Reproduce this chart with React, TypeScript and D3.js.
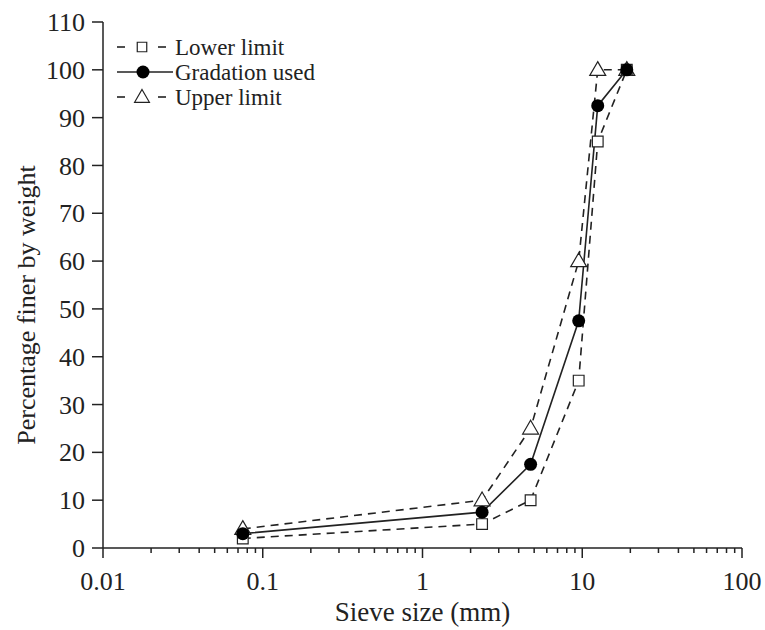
import { useEffect, useRef } from "react";
import * as d3 from "d3";

const sieveSizes = [0.075, 2.36, 4.75, 9.5, 12.5, 19];
const lowerLimit = [2, 5, 10, 35, 85, 100];
const gradationUsed = [3, 7.5, 17.5, 47.5, 92.5, 100];
const upperLimit = [4, 10, 25, 60, 100, 100];
const xTicks = [0.01, 0.1, 1, 10, 100];
const yTicks = [0, 10, 20, 30, 40, 50, 60, 70, 80, 90, 100, 110];

export default function App() {
  const ref = useRef<SVGSVGElement>(null);

  useEffect(() => {
    if (!ref.current) return;
    const width = 765;
    const height = 630;
    const margin = { top: 22, right: 23, bottom: 82, left: 103 };
    const font = '"Liberation Serif", "Times New Roman", serif';
    const ink = "#222";

    const svg = d3.select(ref.current);
    svg.selectAll("*").remove();

    const x = d3.scaleLog().domain([0.01, 100]).range([margin.left, width - margin.right]);
    const y = d3.scaleLinear().domain([0, 110]).range([height - margin.bottom, margin.top]);

    // minor ticks on log axis
    const minor: number[] = [];
    for (let e = -2; e < 2; e++) {
      for (let m = 2; m <= 9; m++) minor.push(m * Math.pow(10, e));
    }

    const xAxis = svg.append("g").attr("transform", `translate(0,${y(0)})`);
    xAxis.append("line")
      .attr("x1", x(0.01)).attr("x2", x(100))
      .attr("stroke", ink).attr("stroke-width", 1.5);
    xAxis.selectAll("line.minor").data(minor).enter().append("line")
      .attr("class", "minor")
      .attr("x1", d => x(d)).attr("x2", d => x(d))
      .attr("y1", 0).attr("y2", 5)
      .attr("stroke", ink).attr("stroke-width", 1.5);
    xAxis.selectAll("line.major").data(xTicks).enter().append("line")
      .attr("class", "major")
      .attr("x1", d => x(d)).attr("x2", d => x(d))
      .attr("y1", 0).attr("y2", 10)
      .attr("stroke", ink).attr("stroke-width", 1.5);
    xAxis.selectAll("text").data(xTicks).enter().append("text")
      .attr("x", d => x(d)).attr("y", 42)
      .attr("text-anchor", "middle")
      .style("font-family", font).style("font-size", "26px").attr("fill", ink)
      .text(d => String(d));

    const yAxis = svg.append("g").attr("transform", `translate(${x(0.01)},0)`);
    yAxis.append("line")
      .attr("y1", y(0)).attr("y2", y(110))
      .attr("stroke", ink).attr("stroke-width", 1.5);
    yAxis.selectAll("line.tick").data(yTicks).enter().append("line")
      .attr("class", "tick")
      .attr("x1", -11).attr("x2", 0)
      .attr("y1", d => y(d)).attr("y2", d => y(d))
      .attr("stroke", ink).attr("stroke-width", 1.5);
    yAxis.selectAll("text").data(yTicks).enter().append("text")
      .attr("x", -18).attr("y", d => y(d))
      .attr("dy", "0.35em")
      .attr("text-anchor", "end")
      .style("font-family", font).style("font-size", "26px").attr("fill", ink)
      .text(d => String(d));

    svg.append("text")
      .attr("x", (x(0.01) + x(100)) / 2).attr("y", 621)
      .attr("text-anchor", "middle")
      .style("font-family", font).style("font-size", "27px").attr("fill", ink)
      .text("Sieve size (mm)");
    svg.append("text")
      .attr("transform", `translate(35,305) rotate(-90)`)
      .attr("text-anchor", "middle")
      .style("font-family", font).style("font-size", "26px").attr("fill", ink)
      .text("Percentage finer by weight");

    const line = d3.line<number>()
      .x((_, i) => x(sieveSizes[i]))
      .y(d => y(d));

    const square = d3.symbol().type(d3.symbolSquare).size(115);
    const triangle = d3.symbol().type(d3.symbolTriangle).size(110);

    const series = [
      { values: upperLimit, dash: "8,6", marker: "tri" },
      { values: lowerLimit, dash: "8,6", marker: "sq" },
      { values: gradationUsed, dash: null, marker: "dot" },
    ];

    series.forEach(s => {
      svg.append("path")
        .attr("d", line(s.values)!)
        .attr("fill", "none")
        .attr("stroke", ink)
        .attr("stroke-width", 1.6)
        .attr("stroke-dasharray", s.dash ?? null);
    });

    series.forEach(s => {
      const g = svg.append("g");
      s.values.forEach((v, i) => {
        const cx = x(sieveSizes[i]);
        const cy = y(v);
        if (s.marker === "dot") {
          g.append("circle").attr("cx", cx).attr("cy", cy).attr("r", 6.5).attr("fill", "#000");
        } else {
          g.append("path")
            .attr("d", (s.marker === "sq" ? square : triangle)()!)
            .attr("transform", `translate(${cx},${cy + (s.marker === "tri" ? 1 : 0)})`)
            .attr("fill", "#fff").attr("stroke", ink).attr("stroke-width", 1.2);
        }
      });
    });

    // legend
    const legend = [
      { label: "Lower limit", dash: true, marker: "sq" },
      { label: "Gradation used", dash: false, marker: "dot" },
      { label: "Upper limit", dash: true, marker: "tri" },
    ];
    legend.forEach((l, i) => {
      const ly = 47 + i * 25;
      const g = svg.append("g");
      if (l.dash) {
        g.append("line").attr("x1", 117).attr("x2", 125).attr("y1", ly).attr("y2", ly)
          .attr("stroke", ink).attr("stroke-width", 1.6);
        g.append("line").attr("x1", 158).attr("x2", 166).attr("y1", ly).attr("y2", ly)
          .attr("stroke", ink).attr("stroke-width", 1.6);
      } else {
        g.append("line").attr("x1", 117).attr("x2", 173).attr("y1", ly).attr("y2", ly)
          .attr("stroke", ink).attr("stroke-width", 1.6);
      }
      if (l.marker === "dot") {
        g.append("circle").attr("cx", 143).attr("cy", ly).attr("r", 6.5).attr("fill", "#000");
      } else {
        g.append("path")
          .attr("d", (l.marker === "sq" ? square : triangle).size(l.marker === "sq" ? 90 : 95)()!)
          .attr("transform", `translate(142,${ly + (l.marker === "tri" ? 1 : 0)})`)
          .attr("fill", "#fff").attr("stroke", ink).attr("stroke-width", 1.2);
      }
      g.append("text")
        .attr("x", 175).attr("y", ly).attr("dy", "0.35em")
        .style("font-family", font).style("font-size", "23px").attr("fill", ink)
        .text(l.label);
    });
  }, []);

  return (
    <svg
      ref={ref}
      width={765}
      height={630}
      style={{ display: "block", position: "absolute", left: 0, top: 0 }}
    />
  );
}
